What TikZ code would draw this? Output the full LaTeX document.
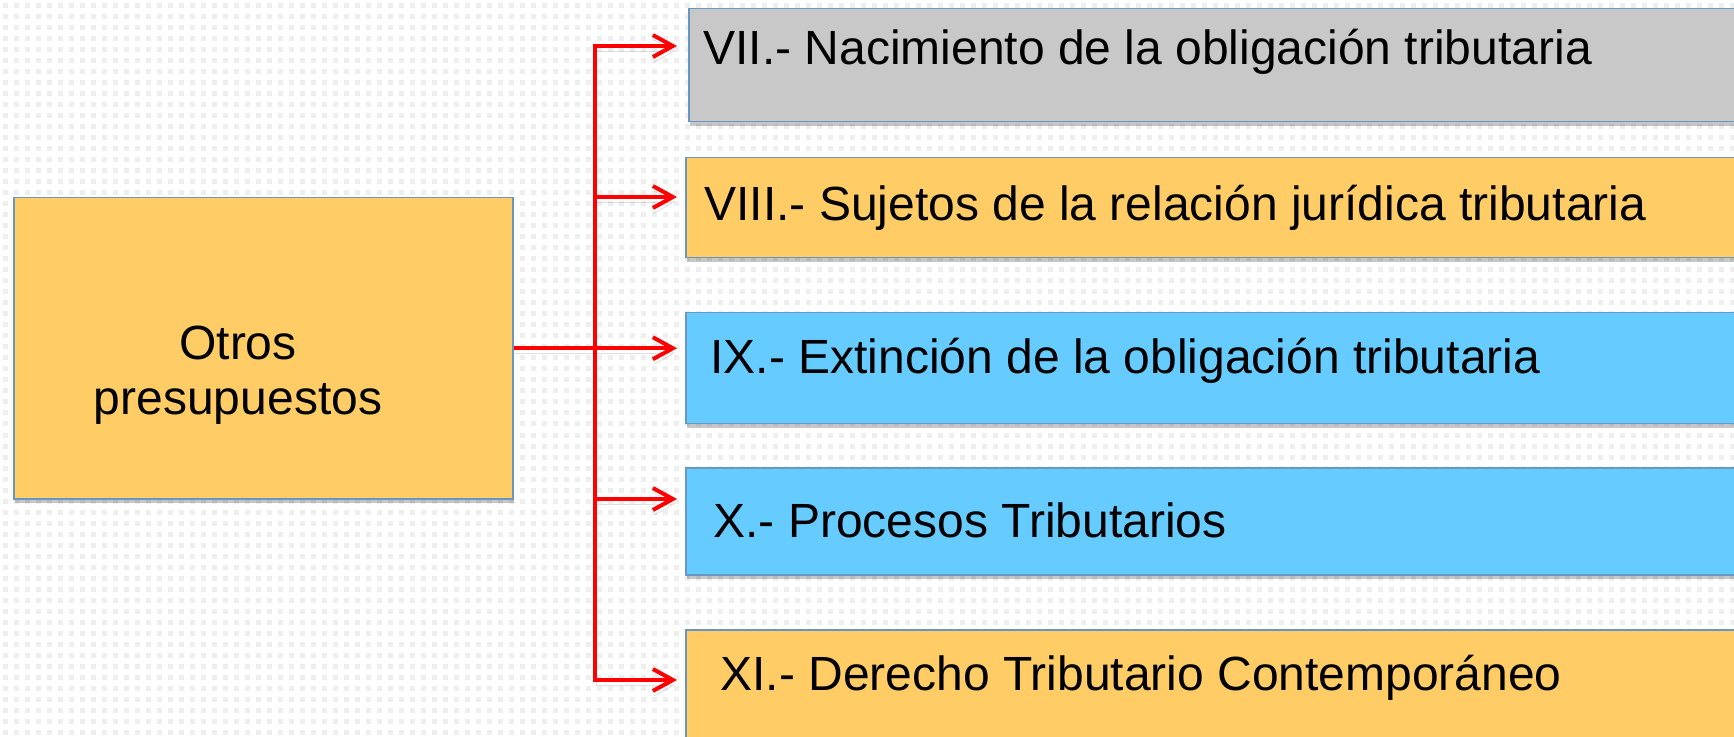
\documentclass[tikz,border=0pt]{standalone}
\usepackage{fontspec}
\setmainfont{Liberation Sans}
\usetikzlibrary{arrows.meta,shadows}
\definecolor{orangebox}{RGB}{255,204,102}
\definecolor{bluebox}{RGB}{102,204,255}
\definecolor{greybox}{RGB}{200,200,200}
\definecolor{edgeblue}{RGB}{104,151,196}
\definecolor{dotc}{RGB}{238,238,238}
\begin{document}
\begin{tikzpicture}[x=0.5pt,y=-0.5pt,
  box/.style={draw=edgeblue, line width=0.75pt, rectangle, inner sep=0pt, anchor=north west,
    drop shadow={shadow xshift=0.6pt, shadow yshift=-2.2pt, opacity=0.22, fill=black}},
  lbl/.style={anchor=base west, inner sep=0pt, font=\fontsize{24}{27.5}\selectfont},
  redline/.style={draw=red, line width=2pt,
    preaction={draw=black, opacity=0.12, transform canvas={xshift=0.6pt,yshift=-2.5pt}}},
  conn/.style={redline, -{Straight Barb[length=10pt,width=11pt]}}
]
\fill[white] (0,0) rectangle (1734,737);
\clip (0,0) rectangle (1734,737);
\foreach \yy in {6,17,...,737}
  \draw[dotc, line width=2.5pt, dash pattern=on 2.5pt off 3pt] (3,\yy) -- (1734,\yy);

% boxes
\node[box, fill=orangebox, minimum width=249.5pt, minimum height=150.5pt] (main) at (13,197) {};
\node[box, fill=greybox,  minimum width=530pt, minimum height=56.5pt] (vii) at (688,8) {};
\node[box, fill=orangebox, minimum width=532pt, minimum height=50pt] (viii) at (685,157) {};
\node[box, fill=bluebox,  minimum width=532pt, minimum height=55.5pt] (ix) at (685,312) {};
\node[box, fill=bluebox,  minimum width=532pt, minimum height=53.5pt] (x) at (685,467) {};
\node[box, fill=orangebox, minimum width=532pt, minimum height=60pt] (xi) at (685,629) {};

% labels
\node[anchor=base, inner sep=0pt, align=center, font=\fontsize{24}{27.5}\selectfont] (tmain) at (238,415) {Otros\\presupuestos};
\node[lbl] (t7) at (703,65) {VII.- Nacimiento de la obligación tributaria};
\node[lbl] (t8) at (704,221) {VIII.- Sujetos de la relación jurídica tributaria};
\node[lbl] (t9) at (710,374) {IX.- Extinción de la obligación tributaria};
\node[lbl] (t10) at (713,537) {X.- Procesos Tributarios};
\node[lbl] (t11) at (720,690) {XI.- Derecho Tributario Contemporáneo};

% connectors
\coordinate (s7) at (595,46);
\coordinate (s8) at (595,197);
\coordinate (s10) at (595,499);
\coordinate (s11) at (595,680);
\draw[redline, line cap=rect] (s7) -- (s11);
\draw[conn, shorten >=5.5pt] (s7) -- (s7 -| vii.west);
\draw[conn, shorten >=4pt] (s8) -- (s8 -| viii.west);
\draw[conn, shorten >=4pt] (main.east) -- (main.east -| ix.west);
\draw[conn, shorten >=4pt] (s10) -- (s10 -| x.west);
\draw[conn, shorten >=4pt] (s11) -- (s11 -| xi.west);
\end{tikzpicture}
\end{document}
